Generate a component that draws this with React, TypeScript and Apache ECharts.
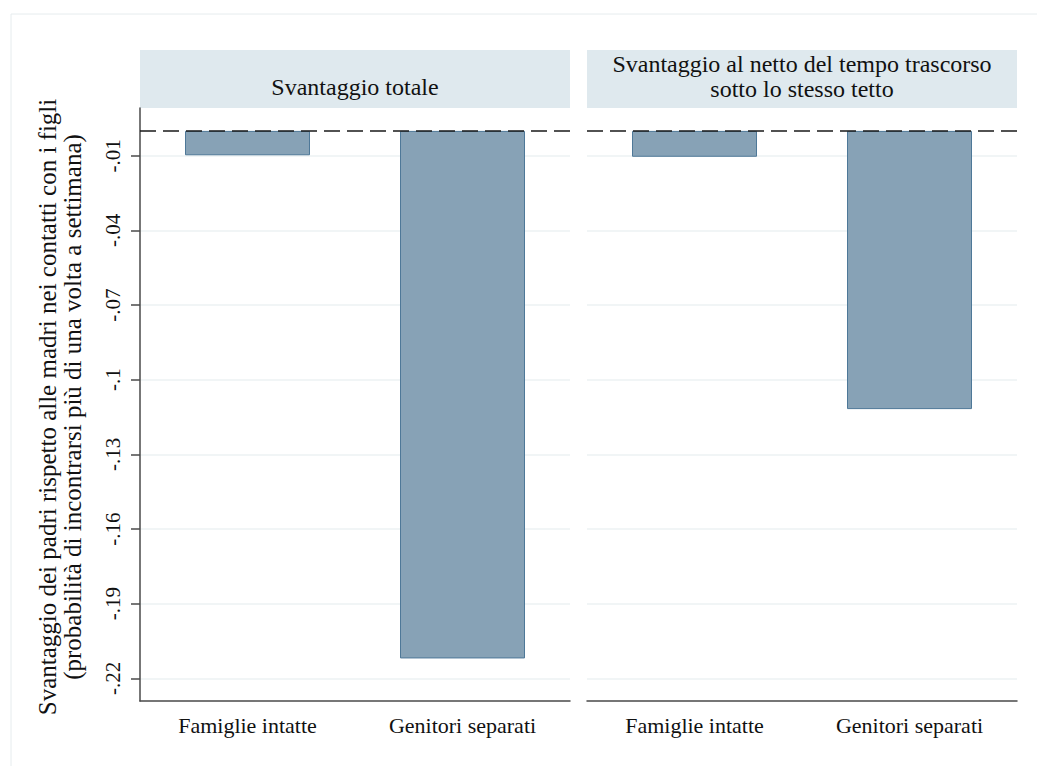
import React, { useEffect, useRef } from "react";
import * as echarts from "echarts";

const categories = ["Famiglie intatte", "Genitori separati"];
const totalValues = [-0.0098, -0.212];
const netValues = [-0.0104, -0.1118];
const yTicks = [-0.01, -0.04, -0.07, -0.1, -0.13, -0.16, -0.19, -0.22];
const panelTitles = [
  "Svantaggio totale",
  "Svantaggio al netto del tempo trascorso\nsotto lo stesso tetto",
];
const yTitleLines = [
  "Svantaggio dei padri rispetto alle madri nei contatti con i figli",
  "(probabilità di incontrarsi più di una volta a settimana)",
];

const FONT = "'Liberation Serif', 'Times New Roman', serif";
const BAR_FILL = "#87a2b6";
const BAR_BORDER = "#4e7898";
const GRID_COLOR = "#edf2f3";
const AXIS_COLOR = "#4a4a4a";
const STRIP_COLOR = "#dfe9ee";

const fmt = (v: number) => Number(v.toFixed(3)).toString().replace("-0.", "-.");

export default function App() {
  const ref = useRef<HTMLDivElement>(null);
  useEffect(() => {
    if (!ref.current) return;
    const chart = echarts.init(ref.current, undefined, { renderer: "svg" });
    const grids = [
      { left: 140, top: 108, width: 430, height: 593 },
      { left: 587, top: 108, width: 430, height: 593 },
    ];
    const yMin = -0.2291;
    const yMax = 0.0092;
    const makeY = (idx: number) => ({
      type: "value",
      gridIndex: idx,
      min: yMin,
      max: yMax,
      axisLine: { show: idx === 0, lineStyle: { color: AXIS_COLOR, width: 1.5 } },
      axisTick: {
        show: idx === 0,
        customValues: yTicks,
        length: 9,
        lineStyle: { color: AXIS_COLOR, width: 1.5 },
      },
      axisLabel: {
        show: idx === 0,
        customValues: yTicks,
        rotate: 90,
        margin: 17,
        formatter: (v: number) => fmt(v),
        fontFamily: FONT,
        fontSize: 21,
        color: "#111",
      },
      splitLine: { show: true, lineStyle: { color: GRID_COLOR, width: 1.5 } },
    });
    const makeX = (idx: number) => ({
      type: "category",
      gridIndex: idx,
      data: categories,
      axisLine: { show: true, onZero: false, lineStyle: { color: AXIS_COLOR, width: 1.5 } },
      axisTick: { show: false },
      axisLabel: { fontFamily: FONT, fontSize: 22, color: "#111", margin: 13 },
      splitLine: { show: false },
    });
    const makeSeries = (idx: number, values: number[]) => ({
      type: "bar",
      xAxisIndex: idx,
      yAxisIndex: idx,
      data: values,
      barWidth: 125,
      itemStyle: { color: BAR_FILL, borderColor: BAR_BORDER, borderWidth: 1 },
      markLine: {
        silent: true,
        symbol: ["none", "none"],
        label: { show: false },
        lineStyle: { color: "#1a1a1a", type: [16, 7], width: 1.5 },
        data: [{ yAxis: 0 }],
      },
    });
    const graphics: any[] = [
      {
        type: "rect",
        shape: { x: 11, y: 14, width: 1040, height: 770 },
        style: { fill: "none", stroke: "#e6ecee", lineWidth: 1 },
        silent: true,
      },
    ];
    grids.forEach((g, i) => {
      graphics.push({
        type: "rect",
        shape: { x: g.left, y: 50, width: g.width, height: 58 },
        style: { fill: STRIP_COLOR },
        silent: true,
      });
      graphics.push({
        type: "text",
        x: g.left + g.width / 2,
        y: i === 0 ? 87 : 76,
        style: {
          text: panelTitles[i],
          font: `24px ${FONT}`,
          fill: "#111",
          align: "center",
          verticalAlign: "middle",
          lineHeight: 25,
        },
        silent: true,
      });
    });
    graphics.push({
      type: "text",
      x: 60,
      y: 407,
      rotation: Math.PI / 2,
      style: {
        text: yTitleLines.join("\n"),
        font: `25px ${FONT}`,
        fill: "#111",
        align: "center",
        verticalAlign: "middle",
        lineHeight: 25,
      },
      silent: true,
    });
    chart.setOption({
      animation: false,
      backgroundColor: "#ffffff",
      grid: grids,
      xAxis: [makeX(0), makeX(1)],
      yAxis: [makeY(0), makeY(1)],
      series: [makeSeries(0, totalValues), makeSeries(1, netValues)],
      graphic: graphics,
    });
    return () => chart.dispose();
  }, []);
  return (
    <div
      ref={ref}
      style={{ position: "absolute", left: 0, top: 0, width: 1037, height: 766 }}
    />
  );
}
